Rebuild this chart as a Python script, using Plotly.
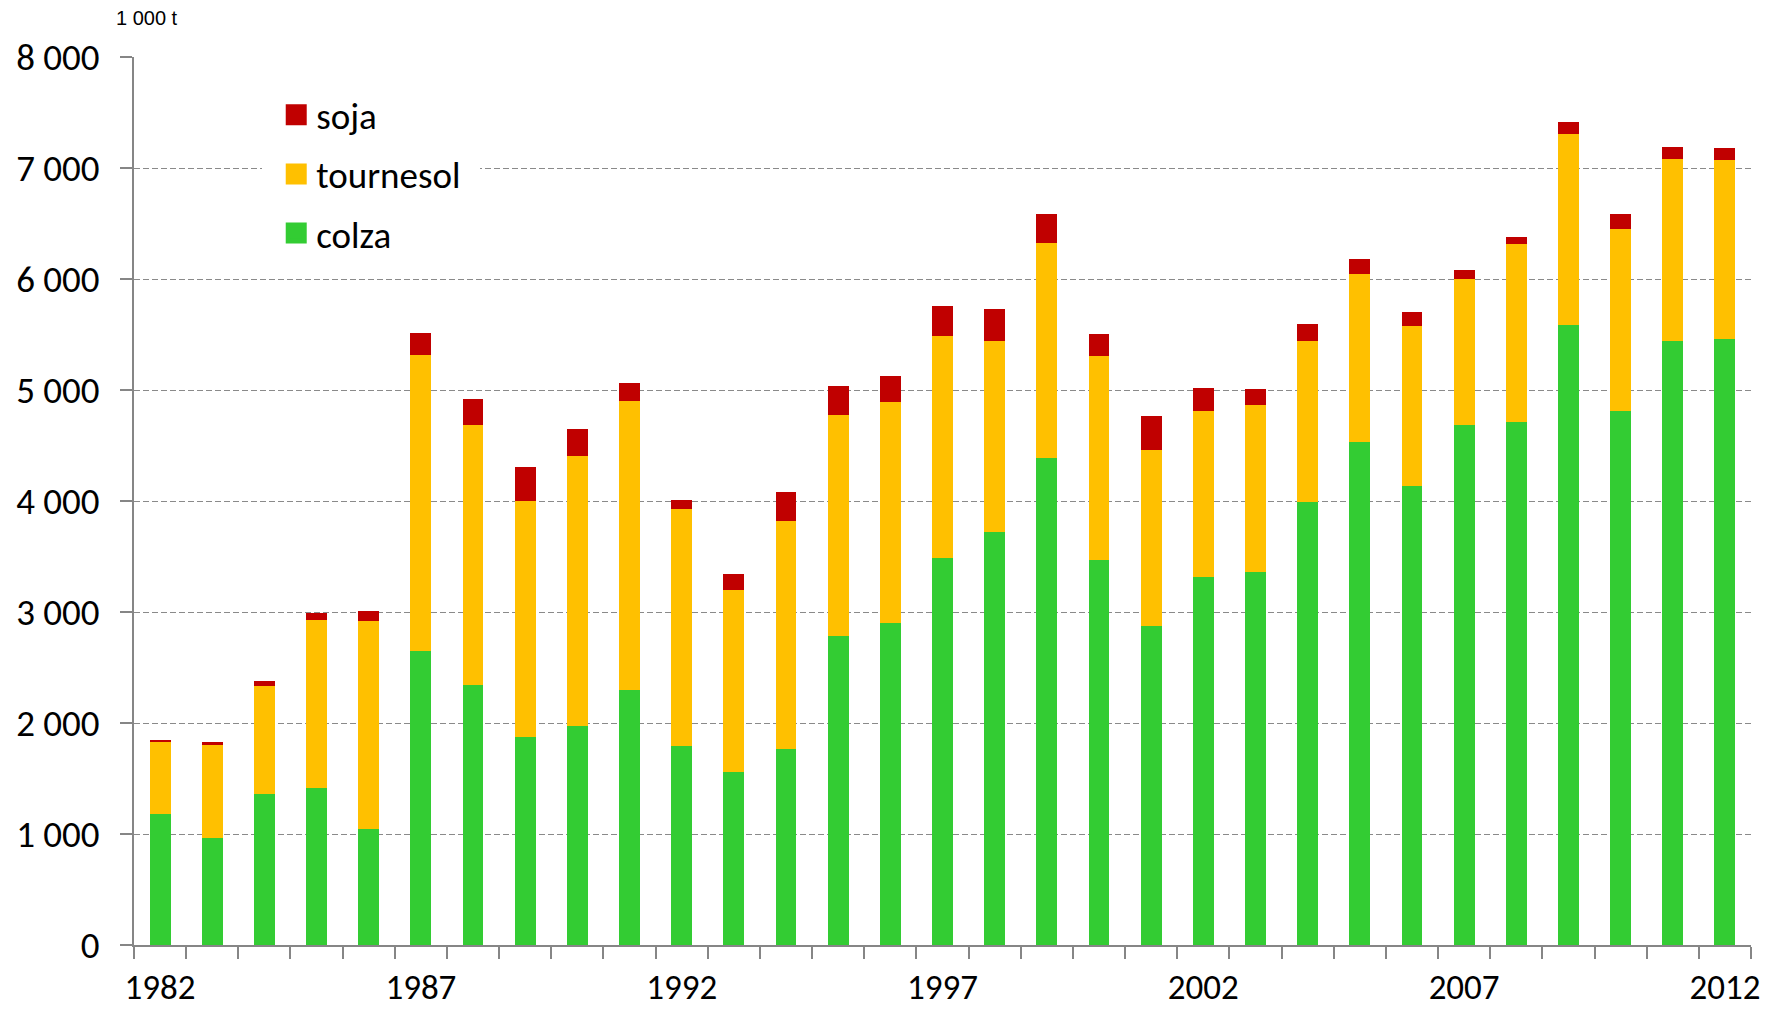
import plotly.graph_objects as go

years = list(range(1982, 2013))
colza = [1182, 966, 1356, 1416, 1044, 2652, 2339, 1871, 1970, 2294,
         1790, 1559, 1766, 2781, 2898, 3489, 3724, 4391, 3471, 2874,
         3318, 3357, 3991, 4529, 4138, 4688, 4715, 5583, 4814, 5438, 5459]
tournesol = [645, 837, 975, 1515, 1872, 2659, 2347, 2129, 2431, 2604,
             2140, 1639, 2054, 1994, 1994, 1997, 1720, 1933, 1835, 1582,
             1493, 1505, 1453, 1513, 1439, 1312, 1603, 1723, 1633, 1646, 1616]
soja = [21, 27, 48, 57, 96, 207, 233, 305, 246, 162,
        75, 144, 261, 261, 234, 271, 286, 262, 202, 310,
        207, 150, 151, 138, 126, 84, 63, 111, 139, 105, 108]

x_ticks = [1982, 1987, 1992, 1997, 2002, 2007, 2012]
y_ticks = [0, 1000, 2000, 3000, 4000, 5000, 6000, 7000, 8000]

C_COLZA = "#33CC33"
C_TOURN = "#FFC000"
C_SOJA = "#C00000"
GRAY = "#868686"
FONT = "Carlito, Calibri, Lato, sans-serif"

fig = go.Figure()
for name, vals, col in [("colza", colza, C_COLZA), ("tournesol", tournesol, C_TOURN), ("soja", soja, C_SOJA)]:
    fig.add_trace(go.Bar(x=years, y=vals, name=name, marker=dict(color=col, line=dict(width=0)),
                         showlegend=False))

# legend entries (square markers)
for name, col in [("soja", C_SOJA), ("tournesol", C_TOURN), ("colza", C_COLZA)]:
    fig.add_trace(go.Scatter(x=[None], y=[None], mode="markers", name=name, legendgroup=name,
                             marker=dict(symbol="square", size=16, color=col,
                                         line=dict(width=5, color=col))))

fig.update_layout(
    width=1782, height=1010,
    margin=dict(l=134, r=31, t=57, b=64.5),
    barmode="stack", bargap=0.6,
    plot_bgcolor="white", paper_bgcolor="white",
    separators=", ",
    font=dict(family=FONT, size=35, color="black"),
    legend=dict(x=0.0793, y=0.985, xanchor="left", yanchor="top",
                bgcolor="white", bordercolor="white", borderwidth=14,
                font=dict(family=FONT, size=37),
                traceorder="grouped", tracegroupgap=8, itemsizing="trace"),
    xaxis=dict(range=[1981.5, 2012.5], tickmode="array", tickvals=x_ticks,
               ticks="", showgrid=False, zeroline=False, automargin=False,
               showline=True, linecolor=GRAY, linewidth=2,
               ticklabelstandoff=10, tickfont=dict(size=35),
               minor=dict(tick0=1981.5, dtick=1, ticks="outside", ticklen=12,
                          tickcolor=GRAY, tickwidth=1.5, showgrid=False)),
    yaxis=dict(range=[0, 8000], tickmode="array", tickvals=y_ticks, tickformat=",d",
               ticks="outside", ticklen=12, tickcolor=GRAY, tickwidth=1.5,
               showline=True, linecolor=GRAY, linewidth=2, automargin=False,
               showgrid=True, gridcolor="#8a8a8a", gridwidth=1.4, griddash="6px,3px",
               zeroline=False, ticklabelstandoff=13, tickfont=dict(size=37)),
    annotations=[dict(text="1 000 t", xref="paper", yref="paper", x=-0.0124, y=1.0435,
                      xanchor="left", yanchor="middle", showarrow=False,
                      font=dict(family="Liberation Sans, Arial", size=20))],
)

fig.write_html("out.html", config={"displayModeBar": False},
               post_script="document.body.style.margin='0';")
